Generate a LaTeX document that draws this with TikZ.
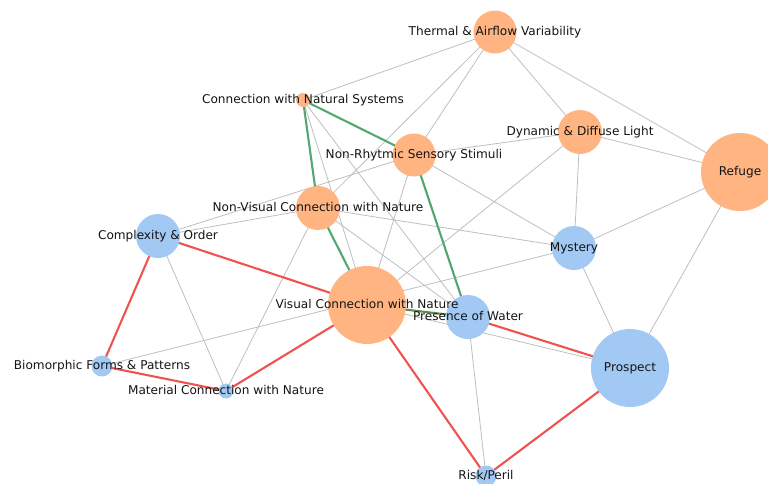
\documentclass[tikz,border=0pt]{standalone}
\usepackage{fontspec}
\setmainfont{DejaVu Sans}
\usetikzlibrary{backgrounds}
\definecolor{orn}{HTML}{FFB482}
\definecolor{blu}{HTML}{A1C9F4}
\definecolor{redl}{HTML}{EF5350}
\definecolor{grnl}{HTML}{52A86E}
\definecolor{olv}{HTML}{5E8C4A}
\definecolor{gryl}{HTML}{BEBEBE}
\tikzset{
  onode/.style={circle, fill=orn, draw=none, inner sep=0pt, minimum size=#1},
  bnode/.style={circle, fill=blu, draw=none, inner sep=0pt, minimum size=#1},
  lbl/.style={inner sep=0pt, text=black!92, font=\fontsize{12.1}{14}\selectfont, text height=0.74em, text depth=0.22em, yshift=-1.2pt},
  gedge/.style={draw=gryl, line width=0.8pt},
  redge/.style={draw=redl, line width=2.1pt},
  gnedge/.style={draw=grnl, line width=2.1pt}
}
\begin{document}
\begin{tikzpicture}[x=1pt,y=-1pt]
\useasboundingbox (0,0) rectangle (768,483);
% nodes
\node[onode=43pt] (T) at (495,32) {};
\node[onode=14pt] (CNS) at (303,100) {};
\node[onode=44pt] (DDL) at (580,132) {};
\node[onode=43pt] (NRS) at (414,155) {};
\node[onode=78pt] (R) at (740,172) {};
\node[onode=44pt] (NVC) at (318,208) {};
\node[bnode=44pt] (CO) at (158,236) {};
\node[bnode=44pt] (M) at (574,248) {};
\node[onode=78pt] (VC) at (367,305) {};
\node[bnode=44pt] (PW) at (468,317) {};
\node[bnode=78pt] (P) at (630,368) {};
\node[bnode=21pt] (B) at (102,366) {};
\node[bnode=15pt] (MC) at (226,391) {};
\node[bnode=21pt] (RP) at (486,476) {};
% edges
\begin{scope}[on background layer]
\foreach \a/\b in {T/CNS, T/NVC, T/NRS, T/DDL, T/R, DDL/NRS, DDL/R, DDL/M, DDL/VC,
  R/M, R/P, M/P, NRS/M, NVC/M, B/M, CO/NRS, CO/NVC, CO/MC, NVC/MC, PW/RP, VC/P,
  CNS/VC, CNS/PW, NVC/PW, NRS/VC}
  \draw[gedge] (\a.center) -- (\b.center);
\foreach \a/\b in {CO/VC, CO/B, B/MC, MC/VC, VC/RP, P/RP, PW/P}
  \draw[redge] (\a.center) -- (\b.center);
\foreach \a/\b in {CNS/NVC, CNS/NRS, NRS/PW, NVC/VC}
  \draw[gnedge] (\a.center) -- (\b.center);
\draw[gnedge, draw=olv] (VC.center) -- (PW.center);
\end{scope}
% labels
\node[lbl] (lT) at (T) {Thermal \& Airflow Variability};
\node[lbl] (lCNS) at (CNS) {Connection with Natural Systems};
\node[lbl] (lDDL) at (DDL) {Dynamic \& Diffuse Light};
\node[lbl] (lNRS) at (NRS) {Non-Rhytmic Sensory Stimuli};
\node[lbl] (lR) at (R) {Refuge};
\node[lbl] (lNVC) at (NVC) {Non-Visual Connection with Nature};
\node[lbl] (lCO) at (CO) {Complexity \& Order};
\node[lbl] (lM) at (M) {Mystery};
\node[lbl] (lVC) at (VC) {Visual Connection with Nature};
\node[lbl] (lPW) at (PW) {Presence of Water};
\node[lbl] (lP) at (P) {Prospect};
\node[lbl] (lB) at (B) {Biomorphic Forms \& Patterns};
\node[lbl] (lMC) at (MC) {Material Connection with Nature};
\node[lbl] (lRP) at (RP) {Risk/Peril};
\end{tikzpicture}
\end{document}
